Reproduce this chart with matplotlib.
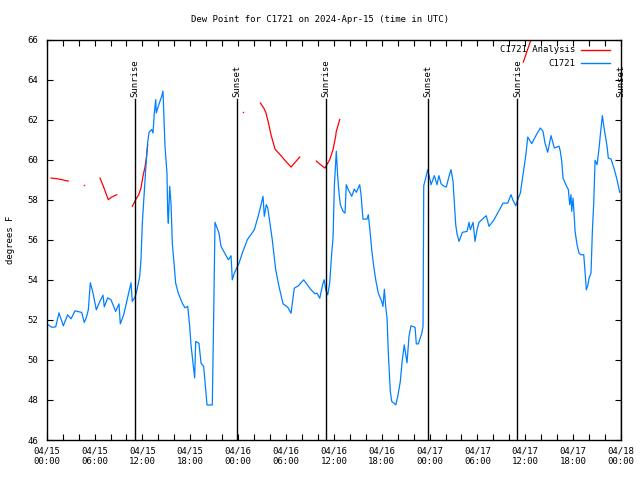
import numpy as np
import matplotlib
matplotlib.use("Agg")
import matplotlib.pyplot as plt
from matplotlib.lines import Line2D

nan = float("nan")

# hours since 04/15 00:00 UTC
blue_hours = [0.0, 0.63, 1.13, 1.54, 2.08, 2.63, 3.05, 3.55, 4.39, 4.71, 4.96, 5.22, 5.47, 5.80,
              6.22, 6.72, 7.06, 7.22, 7.65, 8.06, 8.65, 9.06, 9.23, 9.65, 10.57, 10.73, 11.11,
              11.32, 11.66, 11.82, 11.99, 12.41, 12.66, 12.83, 13.16, 13.33, 13.49, 13.67, 13.74,
              13.99, 14.42, 14.58, 14.83, 15.08, 15.17, 15.25, 15.42, 15.58, 15.75, 16.17, 16.50,
              17.00, 17.34, 17.68, 17.93, 18.09, 18.55, 18.68, 19.09, 19.35, 19.68, 20.10, 20.76,
              20.94, 21.10, 21.60, 21.85, 22.77, 23.11, 23.27, 23.52, 24.11, 24.52, 25.15, 26.03,
              26.62, 27.12, 27.28, 27.53, 27.71, 28.28, 28.71, 29.12, 29.63, 30.22, 30.63, 31.04,
              31.54, 32.22, 33.14, 33.64, 33.89, 34.23, 34.64, 34.80, 34.98, 35.23, 35.48, 35.73,
              35.90, 36.06, 36.23, 36.31, 36.48, 36.65, 36.81, 37.15, 37.40, 37.56, 37.81, 38.24,
              38.57, 38.82, 39.24, 39.41, 39.57, 39.66, 40.16, 40.32, 40.50, 40.75, 41.00, 41.25,
              41.57, 42.00, 42.16, 42.33, 42.50, 42.67, 42.83, 43.08, 43.26, 43.58, 43.76, 44.01,
              44.33, 44.58, 44.83, 45.17, 45.42, 45.67, 46.18, 46.34, 46.59, 47.02, 47.18, 47.27,
              47.52, 47.77, 48.02, 48.18, 48.60, 48.93, 49.18, 49.44, 49.69, 50.10, 50.44, 50.69,
              50.94, 51.28, 51.44, 51.69, 52.11, 52.70, 52.95, 53.11, 53.45, 53.70, 53.95, 54.20,
              55.11, 55.45, 56.04, 57.21, 57.80, 58.21, 58.46, 58.80, 59.05, 59.38, 59.72, 60.05,
              60.31, 60.81, 61.47, 61.89, 62.22, 62.47, 62.81, 63.23, 63.64, 64.23, 64.39, 64.57,
              64.73, 65.14, 65.40, 65.57, 65.73, 65.82, 65.99, 66.15, 66.24, 66.49, 66.74, 66.99,
              67.33, 67.49, 67.65, 67.83, 67.99, 68.24, 68.41, 68.58, 68.75, 69.00, 69.25, 69.41,
              69.66, 69.91, 70.25, 70.41, 70.75, 71.17, 71.50, 71.84]
blue_values = [51.8, 51.63, 51.65, 52.35, 51.7, 52.25, 52.05, 52.45, 52.37, 51.87, 52.1, 52.5, 53.85, 53.35,
               52.5, 52.97, 53.23, 52.65, 53.1, 53.0, 52.42, 52.8, 51.8, 52.25, 53.85, 52.92, 53.17,
               53.5, 54.17, 55.0, 56.85, 59.5, 60.85, 61.37, 61.5, 61.33, 62.33, 63.0, 62.33,
               62.67, 63.17, 63.42, 60.67, 59.33, 57.33, 56.83, 58.67, 57.83, 55.83, 53.83, 53.33,
               52.83, 52.6, 52.67, 51.67, 50.75, 49.1, 50.92, 50.83, 49.83, 49.67, 47.75, 47.75,
               52.33, 56.87, 56.33, 55.67, 55.0, 55.2, 54.0, 54.33, 54.83, 55.33, 56.0, 56.5,
               57.33, 58.17, 57.17, 57.75, 57.6, 56.0, 54.5, 53.67, 52.8, 52.63, 52.33, 53.58,
               53.7, 54.0, 53.5, 53.3, 53.33, 53.08, 53.83, 54.0, 53.5, 53.25, 53.83, 55.33,
               56.08, 58.67, 59.92, 60.42, 59.17, 58.33, 57.75, 57.42, 57.33, 58.75, 58.5, 58.17,
               58.53, 58.37, 58.75, 58.25, 57.42, 57.03, 57.03, 57.25, 56.58, 55.5, 54.67, 54.0,
               53.33, 52.92, 52.67, 53.53, 52.67, 52.08, 50.33, 48.42, 47.92, 47.83, 47.75, 48.17,
               48.92, 50.0, 50.75, 49.85, 51.17, 51.7, 51.63, 50.8, 50.8, 51.33, 51.67, 58.7,
               59.08, 59.5, 59.08, 58.75, 59.2, 58.75, 59.2, 58.8, 58.7, 58.63, 59.17, 59.5,
               58.92, 56.75, 56.3, 55.92, 56.37, 56.42, 56.87, 56.5, 56.87, 55.92, 56.5, 56.87,
               57.2, 56.67, 56.97, 57.83, 57.83, 58.25, 57.97, 57.7, 58.0, 58.33, 59.25, 60.17,
               61.13, 60.8, 61.3, 61.58, 61.42, 60.83, 60.37, 61.2, 60.58, 60.67, 60.42, 59.92,
               59.08, 58.7, 58.5, 57.75, 58.25, 57.42, 58.08, 57.08, 56.42, 55.75, 55.33, 55.25,
               55.25, 54.42, 53.5, 53.7, 54.08, 54.33, 56.42, 57.83, 59.97, 59.75, 60.58, 61.25,
               62.2, 61.5, 60.67, 60.08, 60.03, 59.5, 59.0, 58.37]

red_hours = [0.54, 1.25, 1.96, 2.38, 2.71, nan,
             6.68, 7.10, 7.72, 8.15, 8.78, nan,
             10.73, 11.11, 11.53, 11.82, 12.07, 12.32, 12.49, 12.66, nan,
             26.78, 27.21, 27.46, 27.78, 28.12, 28.62, 29.37, 29.97, 30.63, 31.72, nan,
             33.80, 34.39, 34.89, 35.48, 35.90, 36.23, 36.31, 36.74, nan,
             59.75, 60.72, 61.10]
red_values = [59.08, 59.05, 59.0, 58.95, 58.93, nan,
              59.08, 58.67, 58.0, 58.13, 58.25, nan,
              57.67, 57.97, 58.25, 58.58, 59.17, 59.63, 60.08, 60.75, nan,
              62.83, 62.58, 62.37, 61.87, 61.25, 60.53, 60.2, 59.92, 59.63, 60.13, nan,
              59.93, 59.73, 59.58, 60.0, 60.5, 61.17, 61.42, 62.0, nan,
              64.87, 66.0, 66.5]
red_dot_hours = [4.71, 24.65]
red_dot_values = [58.73, 62.38]

sun_hours = [11.06, 23.88, 34.97, 47.75, 59.02, 71.94]
sun_labels = ["Sunrise", "Sunset", "Sunrise", "Sunset", "Sunrise", "Sunset"]

xtick_hours = [0, 6, 12, 18, 24, 30, 36, 42, 48, 54, 60, 66, 72]
xtick_labels = ["04/15\n00:00", "04/15\n06:00", "04/15\n12:00", "04/15\n18:00",
                "04/16\n00:00", "04/16\n06:00", "04/16\n12:00", "04/16\n18:00",
                "04/17\n00:00", "04/17\n06:00", "04/17\n12:00", "04/17\n18:00",
                "04/18\n00:00"]
yticks = [46, 48, 50, 52, 54, 56, 58, 60, 62, 64, 66]

FONT = "DejaVu Sans Mono"
FS = 6.5
BLUE = "#0080ff"
RED = "#ff0000"

fig = plt.figure(figsize=(6.4, 4.8), dpi=100)
ax = fig.add_axes([46.7/640, 1-440/480, (621-46.7)/640, (440-39.5)/480])

ax.plot(red_hours, red_values, color=RED, lw=0.9)
ax.plot(red_dot_hours, red_dot_values, color=RED, ls="none", marker="s", ms=1.0, mew=0)
ax.plot(blue_hours, blue_values, color=BLUE, lw=0.9)

for h, lab in zip(sun_hours, sun_labels):
    ax.plot([h, h], [46, 63.05], color="black", lw=1.0)
    ax.text(h, 63.15, lab, rotation=90, ha="center", va="bottom",
            fontsize=FS, family=FONT)

ax.set_xlim(0, 72)
ax.set_ylim(46, 66)
ax.set_xticks(np.arange(0, 73, 2), minor=True)
ax.set_xticks(xtick_hours)
ax.set_xticklabels(xtick_labels, fontsize=FS, family=FONT)
ax.set_yticks(yticks)
ax.set_yticklabels([str(v) for v in yticks], fontsize=FS, family=FONT)
ax.tick_params(which="both", direction="in", top=True, right=True, length=4, width=0.8)
ax.tick_params(axis="x", which="both", pad=5)
ax.tick_params(axis="y", pad=6)
for s in ax.spines.values():
    s.set_linewidth(1.0)

ax.set_ylabel("degrees F", fontsize=FS, family=FONT, labelpad=9)

fig.text(0.5, 1-20/480, "Dew Point for C1721 on 2024-Apr-15 (time in UTC)",
         ha="center", va="center", fontsize=FS, family=FONT)

# legend (gnuplot style: right-aligned text, sample line after)
leg_items = [("C1721 Analysis", RED, 0.974), ("C1721", BLUE, 0.941)]
for lab, col, yy in leg_items:
    ax.text(0.920, yy, lab, transform=ax.transAxes, ha="right", va="center",
            fontsize=FS, family=FONT)
    ax.add_line(Line2D([0.930, 0.981], [yy, yy], transform=ax.transAxes, color=col, lw=1.0))

fig.savefig("out.png", dpi=100)
